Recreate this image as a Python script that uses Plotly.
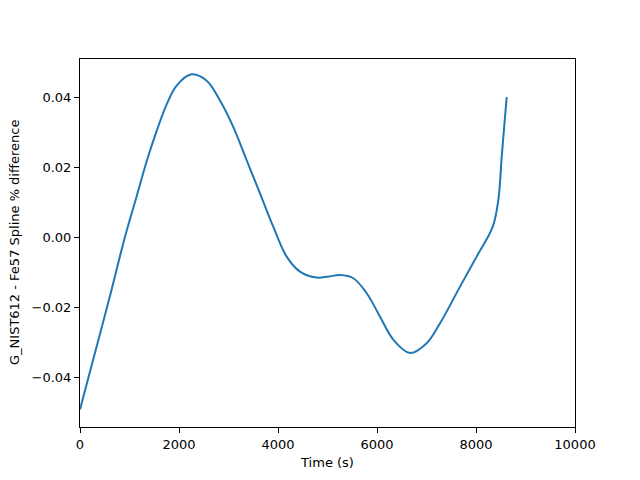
import plotly.graph_objects as go

time_s = [0, 300, 600, 909, 1145, 1347, 1549, 1751, 1953, 2256, 2559, 2828, 3098, 3367, 3636, 3906, 4175, 4444, 4781, 5020, 5253, 5522, 5792, 6061, 6330, 6667, 7003, 7273, 7677, 8013, 8337, 8451, 8519, 8586, 8620]
diff_pct = [-0.0493, -0.0332, -0.0171, 0.0002, 0.0118, 0.0218, 0.0305, 0.0381, 0.0435, 0.0467, 0.0449, 0.0392, 0.0316, 0.0221, 0.0126, 0.0030, -0.0055, -0.0098, -0.0115, -0.0112, -0.0108, -0.0117, -0.0160, -0.0227, -0.0293, -0.0331, -0.0303, -0.0246, -0.0141, -0.0055, 0.0030, 0.0107, 0.0230, 0.0345, 0.0402]

fig = go.Figure()
fig.add_trace(go.Scatter(x=time_s, y=diff_pct, mode="lines",
                         line=dict(color="#1f77b4", width=2, shape="spline", smoothing=1.0)))

axis_common = dict(showgrid=False, zeroline=False, showline=True, linecolor="black", linewidth=1,
                   mirror=True, ticks="outside", ticklen=5, tickcolor="black", automargin=False,
                   tickfont=dict(family="DejaVu Sans", size=13, color="black"))
fig.update_layout(
    width=640, height=480,
    paper_bgcolor="white", plot_bgcolor="white",
    margin=dict(l=72, r=73, t=51, b=61),
    showlegend=False,
    font=dict(family="DejaVu Sans", size=13, color="black"),
    xaxis=dict(range=[0, 10000], tickvals=[0, 2000, 4000, 6000, 8000, 10000], tickformat="d",
               title=dict(text="Time (s)", standoff=7, font=dict(size=13)), **axis_common),
    yaxis=dict(range=[-0.0543, 0.0511], tickvals=[-0.04, -0.02, 0.0, 0.02, 0.04], tickformat=".2f",
               **axis_common),
)
fig.add_annotation(text="G_NIST612 - Fe57 Spline % difference", xref="paper", yref="paper",
                   x=0, y=0.5, xanchor="center", yanchor="middle", xshift=-66, textangle=-90,
                   showarrow=False, font=dict(family="DejaVu Sans", size=13, color="black"))
fig.write_html("out.html")
